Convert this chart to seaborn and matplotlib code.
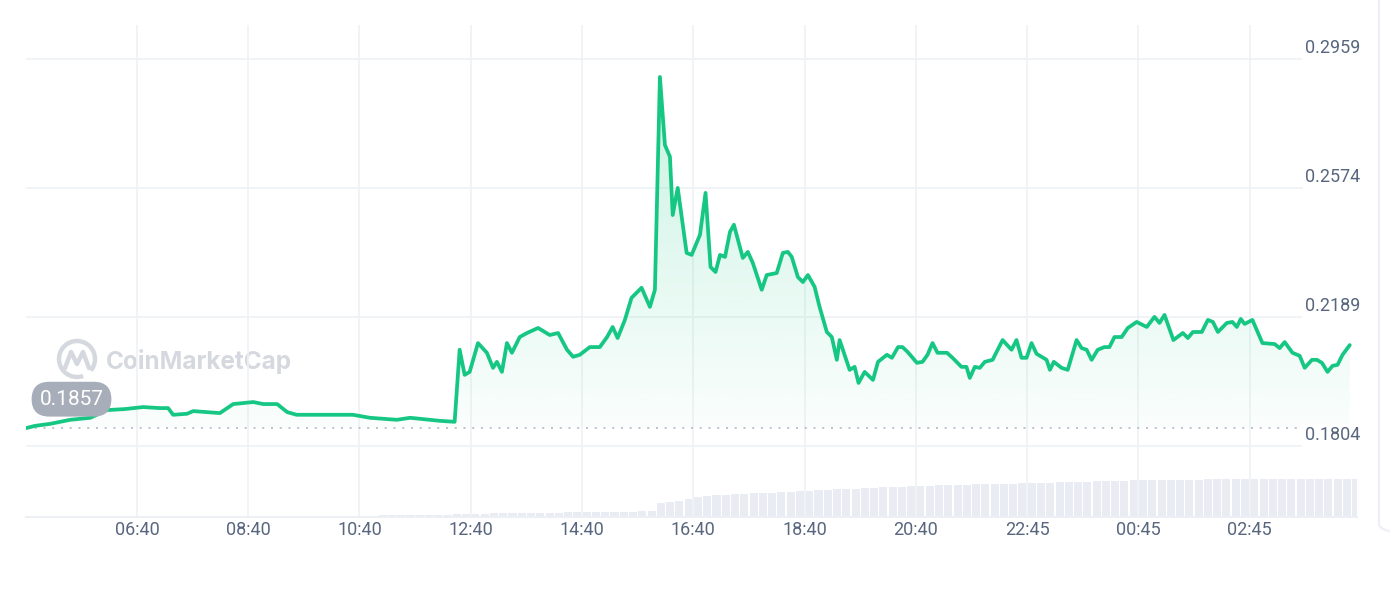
import numpy as np
import pandas as pd
import seaborn as sns
import matplotlib.pyplot as plt
from matplotlib import transforms
from matplotlib.colors import LinearSegmentedColormap
from matplotlib.patches import Arc, FancyBboxPatch

# price trace, time in hours after 04:40
hours = [
    0.00, 0.17, 0.44, 0.80, 1.16, 1.46, 1.78, 2.11, 2.41, 2.56, 2.65, 2.90, 3.01,
    3.49, 3.73, 4.09, 4.27, 4.52, 4.70, 4.87, 5.88, 6.19, 6.67, 6.91, 7.44, 7.71,
    7.80, 7.89, 7.98, 8.13, 8.29, 8.40, 8.47, 8.56, 8.65, 8.74, 8.88, 9.01, 9.21,
    9.42, 9.57, 9.73, 9.84, 9.96, 10.14, 10.32, 10.45, 10.55, 10.64, 10.77, 10.89,
    11.07, 11.22, 11.31,
    11.40, 11.49, 11.58, 11.63, 11.72, 11.88, 11.97, 12.12, 12.22, 12.31, 12.40,
    12.48, 12.57, 12.66, 12.73, 12.89, 12.98, 13.07, 13.23, 13.32, 13.50, 13.61,
    13.70, 13.77, 13.88, 13.97, 14.06, 14.18, 14.27,
    14.40, 14.49, 14.58, 14.63, 14.81, 14.90, 14.97, 15.08, 15.23, 15.32, 15.48,
    15.57, 15.68, 15.76, 15.85, 16.02, 16.12, 16.21, 16.30, 16.39, 16.56, 16.66,
    16.82, 16.91, 16.97, 17.06, 17.15, 17.24, 17.38, 17.56, 17.72, 17.81, 17.90, 17.99,
    18.08, 18.17, 18.35, 18.41, 18.48, 18.62, 18.73, 18.89, 18.98, 19.07, 19.16,
    19.27, 19.39, 19.48, 19.57, 19.70, 19.81, 19.97, 20.15, 20.29, 20.38, 20.47,
    20.63, 20.80, 20.89, 20.98, 21.14, 21.25, 21.34, 21.43, 21.59, 21.69, 21.77,
    21.84, 21.91, 22.05, 22.23, 22.45, 22.54, 22.63, 22.77, 22.90, 22.99, 23.12,
    23.21, 23.30, 23.40, 23.49, 23.58, 23.67, 23.80,
]
price = [
    0.1857, 0.1864, 0.1870, 0.1882, 0.1888, 0.1911, 0.1914, 0.1920, 0.1917, 0.1917, 0.1897, 0.1900, 0.1908,
    0.1902, 0.1929, 0.1935, 0.1929, 0.1929, 0.1905, 0.1897, 0.1897, 0.1888, 0.1882, 0.1888, 0.1879, 0.1876,
    0.2091, 0.2016, 0.2025, 0.2111, 0.2082, 0.2037, 0.2055, 0.2025, 0.2111, 0.2082, 0.2129, 0.2141, 0.2156,
    0.2135, 0.2141, 0.2091, 0.2070, 0.2076, 0.2099, 0.2099, 0.2129, 0.2159, 0.2126, 0.2180, 0.2246,
    0.2276, 0.2219, 0.2270,
    0.2905, 0.2702, 0.2667, 0.2493, 0.2574, 0.2380, 0.2374, 0.2434, 0.2559, 0.2338, 0.2323,
    0.2374, 0.2368, 0.2443, 0.2464, 0.2365, 0.2383, 0.2350, 0.2270, 0.2314, 0.2320, 0.2380,
    0.2383, 0.2368, 0.2308, 0.2293, 0.2314, 0.2279, 0.2219,
    0.2144, 0.2129, 0.2061, 0.2120, 0.2031, 0.2040, 0.1992, 0.2025, 0.2001, 0.2055, 0.2076,
    0.2067, 0.2099, 0.2099, 0.2085, 0.2052, 0.2055, 0.2076, 0.2111, 0.2082, 0.2082, 0.2067,
    0.2040, 0.2040, 0.2007, 0.2040, 0.2037, 0.2055, 0.2061, 0.2120, 0.2091, 0.2120, 0.2067, 0.2067,
    0.2111, 0.2079, 0.2061, 0.2031, 0.2055, 0.2037, 0.2031, 0.2120, 0.2096, 0.2091, 0.2061,
    0.2091, 0.2099, 0.2099, 0.2129, 0.2129, 0.2156, 0.2174, 0.2159, 0.2189, 0.2171, 0.2195,
    0.2120, 0.2141, 0.2126, 0.2144, 0.2144, 0.2180, 0.2174, 0.2144, 0.2171, 0.2174, 0.2159,
    0.2183, 0.2168, 0.2180, 0.2111, 0.2108, 0.2096, 0.2114, 0.2082, 0.2073, 0.2037, 0.2061,
    0.2061, 0.2052, 0.2025, 0.2043, 0.2046, 0.2076, 0.2105,
]
start_price = 0.1857

# 10-minute volume bars (relative units)
volume = [
    0, 0, 0, 0, 0, 0, 0, 0, 0, 0, 0, 0, 0, 0, 0, 0, 0, 0,
    1.0, 1.0, 1.1, 1.1, 1.2, 1.2, 1.2, 1.3, 1.3, 1.3, 1.3, 1.4, 1.4, 1.4,
    1.4, 1.5, 1.5, 1.5, 1.5, 1.5, 1.6, 1.6, 1.6, 1.6, 1.7, 1.7, 1.7, 1.8,
    3.0, 3.2, 3.4, 3.5, 3.6, 3.8, 3.9, 4.0, 4.1, 4.2, 4.3, 4.5, 4.6, 4.7,
    4.8, 5.0, 5.1, 5.2, 5.4, 5.5, 5.7, 6.0,
    14, 15, 16, 18, 20, 21.5, 22, 22.5, 23, 23.3, 23.7, 24, 24.5, 25, 25.5, 26, 26.5, 27,
    27.3, 27.6, 28, 28.4, 28.8, 29.2, 29.6, 30, 30.4, 30.8,
    31.2, 31.5, 31.8, 32, 32.2, 32.4, 32.6, 32.8, 33, 33.2, 33.4, 33.6,
    33.8, 34, 34.3, 34.6, 34.9, 35.2, 35.5, 35.8, 36, 36.2, 36.4, 36.6,
    36.8, 37, 37.1, 37.2, 37.3, 37.4, 37.5, 37.6, 37.7, 37.8, 37.9, 38,
    38, 38, 38.1, 38.1, 38.2, 38.2, 38.2, 38.3, 38.3, 38.3, 38.4, 38.4,
]
vol_hours = np.arange(len(volume)) / 6 + 1 / 12

xticks = [2, 4, 6, 8, 10, 12, 14, 16, 18, 20, 22]
xtick_labels = ["06:40", "08:40", "10:40", "12:40", "14:40", "16:40",
                "18:40", "20:40", "22:45", "00:45", "02:45"]
yticks = [0.1804, 0.2189, 0.2574, 0.2959]
ytick_labels = ["0.1804", "0.2189", "0.2574", "0.2959"]

green = "#16c784"
grid_col = "#eff2f5"
label_col = "#58667e"

sns.set_theme(style="white")
plt.rcParams["font.family"] = ["Roboto", "DejaVu Sans"]

fig = plt.figure(figsize=(13.9, 6.06), dpi=100, facecolor="white")
ax = fig.add_axes([25.7 / 1390, 89 / 606, (1357 - 25.7) / 1390, 492 / 606])
ax_vol = ax.twinx()
ax.set_zorder(2)
ax_vol.set_zorder(1)
ax.patch.set_visible(False)
ax_vol.patch.set_visible(False)

# volume
ax_vol.bar(vol_hours, volume, width=0.145, color="#eaecf3", linewidth=0)
ax_vol.set_ylim(0, 492)
ax_vol.axis("off")

# price line
df = pd.DataFrame({"hours": hours, "price": price})
sns.lineplot(data=df, x="hours", y="price", ax=ax, color=green, linewidth=2.7,
             solid_joinstyle="round", solid_capstyle="round", zorder=5)

# gradient fill between line and opening price
poly = ax.fill_between(hours, price, start_price, facecolor="none", edgecolor="none")
cmap = LinearSegmentedColormap.from_list(
    "fade", [(22 / 255, 199 / 255, 132 / 255, 0.02), (22 / 255, 199 / 255, 132 / 255, 0.24)])
grad = np.linspace(0, 1, 256).reshape(-1, 1)
img = ax.imshow(grad, extent=[0, 24, start_price, 0.2959], origin="lower",
                aspect="auto", cmap=cmap, zorder=3)
img.set_clip_path(poly.get_paths()[0], transform=ax.transData)

# opening price reference
ax.axhline(start_price, color="#bcc3cf", lw=1.4, ls=(0, (1, 3.5)), zorder=4)

ax.set_xlim(0, 23.93)
ax.set_ylim(0.1592, 0.3060)
ax.set_xticks(xticks)
ax.set_xticklabels(xtick_labels)
ax.set_yticks(yticks)
ax.set_yticklabels([])
ax.grid(True, color=grid_col, lw=1.2, zorder=0)
ax.set_axisbelow(True)
ax.tick_params(axis="x", length=0, pad=3.2, labelsize=13, labelcolor=label_col)
ax.tick_params(axis="y", length=0, left=False, labelleft=False)
ax.set_xlabel("")
ax.set_ylabel("")
for side in ["top", "left", "right"]:
    ax.spines[side].set_visible(False)
ax.spines["bottom"].set_color("#eceff3")
ax.spines["bottom"].set_linewidth(1.5)

# y labels sit above their grid lines, right aligned
ylab_trans = transforms.blended_transform_factory(ax.transAxes, ax.transData) + \
    transforms.ScaledTranslation(0.03, 0.055, fig.dpi_scale_trans)
for v, lab in zip(yticks, ytick_labels):
    ax.text(1.0, v, lab, transform=ylab_trans, ha="right", va="baseline",
            fontsize=13, color=label_col, zorder=6,
            bbox=dict(facecolor="white", edgecolor="none", pad=1.5))

# opening price badge
badge_trans = transforms.blended_transform_factory(ax.transAxes, ax.transData) + \
    transforms.ScaledTranslation(0.458, 0.29, fig.dpi_scale_trans)
ax.text(0, start_price, f"{start_price:.4f}", transform=badge_trans, ha="center", va="center",
        fontsize=15, color="white", zorder=7,
        bbox=dict(boxstyle="round,pad=0.38,rounding_size=0.85", facecolor="#a8aeb9", edgecolor="none"))

# watermark and card edge
deco = fig.add_axes([0, 0, 1, 1])
deco.set_zorder(0)
deco.set_xlim(0, 1390)
deco.set_ylim(606, 0)
deco.axis("off")
wm = "#d5d9df"
deco.add_patch(Arc((77, 359), 36, 36, theta1=70, theta2=400, color=wm, lw=3.2))
deco.plot([65, 71, 77, 83, 89], [368, 352, 364, 352, 368], color=wm, lw=3.2,
          solid_joinstyle="round", solid_capstyle="round")
deco.text(106, 361, "CoinMarketCap", fontsize=17.5, color=wm, weight="bold",
          ha="left", va="center", family=["Inter", "DejaVu Sans"])
deco.add_patch(FancyBboxPatch((1379, -40), 120, 578, boxstyle="round,pad=0,rounding_size=14",
                              facecolor="none", edgecolor="#eceff3", lw=1.5))

fig.savefig("out.png", dpi=100, facecolor=fig.get_facecolor())
